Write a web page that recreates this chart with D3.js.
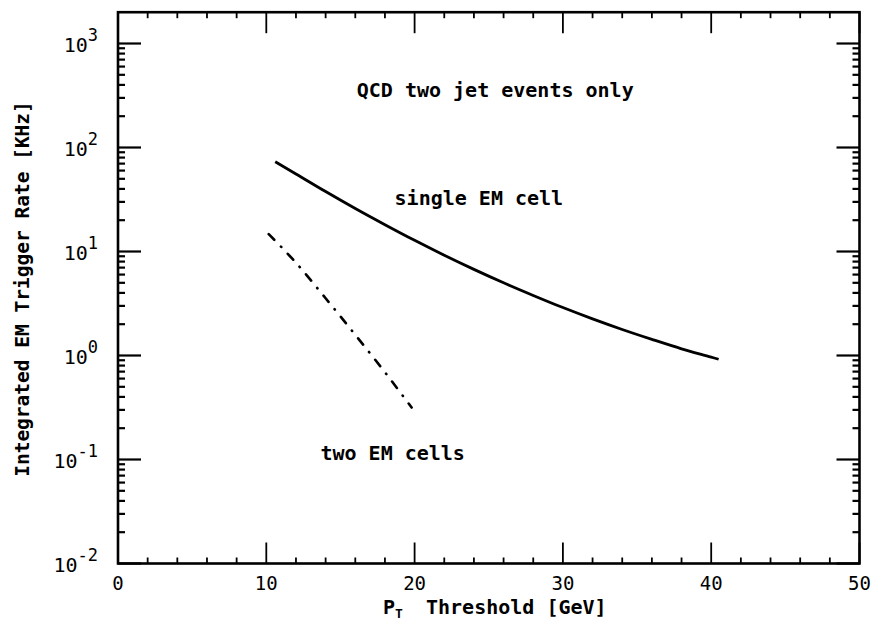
<!DOCTYPE html>
<html>
<head>
<meta charset="utf-8">
<script src="https://cdn.jsdelivr.net/npm/d3@7/dist/d3.min.js"></script>
<style>
  html, body { margin: 0; padding: 0; background: #fff; }
  svg text { font-family: "DejaVu Sans Mono", monospace; fill: #000; }
</style>
</head>
<body>
<svg id="chart" width="876" height="622"></svg>
<script>
// ---- data ----
const singlePt   = [10.6, 12, 14, 16, 18, 20, 22, 24, 26, 28, 30, 32, 34, 36, 38, 40, 40.5];
const singleRate = [73, 55.7, 37.7, 25.9, 18.1, 12.8, 9.2, 6.73, 5.0, 3.78, 2.89, 2.25, 1.78, 1.43, 1.16, 0.964, 0.92];
const twoPt   = [10.16, 12, 14, 16, 18, 19.8];
const twoRate = [14.7, 7.8, 3.55, 1.58, 0.69, 0.316];
const xTicks = [0, 10, 20, 30, 40, 50];
const yTickExp = [-2, -1, 0, 1, 2, 3];
const xTitle = "Threshold [GeV]";
const yTitle = "Integrated EM Trigger Rate [KHz]";
const notes = [
  { text: "QCD two jet events only", x: 16.1, y: 305 },
  { text: "single EM cell", x: 18.65, y: 27.9 },
  { text: "two EM cells", x: 13.65, y: 0.0984 }
];

const svg = d3.select("#chart");
const x = d3.scaleLinear().domain([0, 50]).range([118, 859.5]);
const y = d3.scaleLog().domain([0.01, 2000]).range([563.5, 12.2]);
const X0 = x(0), X1 = x(50), Y0 = y(0.01), Y1 = y(2000);

const axisW = 2.6;
const g = svg.append("g");

function tickLine(x1, y1, x2, y2, w) {
  g.append("line").attr("x1", x1).attr("y1", y1).attr("x2", x2).attr("y2", y2)
    .attr("stroke", "#000").attr("stroke-width", w);
}
const minorX = d3.range(0, 50.001, 2).filter(v => v % 10 !== 0);
xTicks.forEach(v => {
  tickLine(x(v), Y0, x(v), Y0 - 21, 1.8);
  tickLine(x(v), Y1, x(v), Y1 + 21, 1.8);
});
minorX.forEach(v => {
  tickLine(x(v), Y0, x(v), Y0 - 6, 1.8);
  tickLine(x(v), Y1, x(v), Y1 + 6, 1.8);
});
yTickExp.forEach(e => {
  const v = Math.pow(10, e);
  tickLine(X0, y(v), X0 + 23, y(v), 2.2);
  tickLine(X1, y(v), X1 - 23, y(v), 2.2);
  if (e < 3) {
    for (let k = 2; k <= 9; k++) {
      tickLine(X0, y(k * v), X0 + 7, y(k * v), 2.2);
      tickLine(X1, y(k * v), X1 - 7, y(k * v), 2.2);
    }
  }
});

// frame
g.append("rect").attr("x", X0).attr("y", Y1).attr("width", X1 - X0).attr("height", Y0 - Y1)
  .attr("fill", "none").attr("stroke", "#000").attr("stroke-width", axisW);

// x tick labels
g.selectAll(".xl").data(xTicks).enter().append("text")
  .attr("x", d => x(d)).attr("y", 590)
  .attr("text-anchor", "middle").attr("font-size", 19)
  .text(d => d);

// y tick labels
yTickExp.forEach(e => {
  const t = g.append("text").attr("x", 98).attr("y", y(Math.pow(10, e)) + 8)
    .attr("text-anchor", "end").attr("font-size", 20);
  t.append("tspan").text("10");
  t.append("tspan").attr("dy", -11).attr("font-size", 17).text(String(e));
});

// axis titles
const xt = g.append("text").attr("x", 383).attr("y", 614).attr("font-size", 20).attr("font-weight", "bold");
xt.append("tspan").text("P");
xt.append("tspan").attr("dy", 4).attr("font-size", 13).text("T");
xt.append("tspan").attr("dy", -4).attr("x", 426).text(xTitle);

g.append("text").attr("transform", "translate(29,289) rotate(-90)")
  .attr("text-anchor", "middle").attr("font-size", 19.5).attr("font-weight", "bold")
  .text(yTitle);

// curves
const line = d3.line().x(d => x(d[0])).y(d => y(d[1])).curve(d3.curveMonotoneX);
g.append("path").datum(d3.zip(singlePt, singleRate)).attr("d", line)
  .attr("fill", "none").attr("stroke", "#000").attr("stroke-width", 2.8);
g.append("path").datum(d3.zip(twoPt, twoRate)).attr("d", line)
  .attr("fill", "none").attr("stroke", "#000").attr("stroke-width", 2.6)
  .attr("stroke-linecap", "round")
  .attr("stroke-dasharray", "8,9.5,0.5,9.5");

// annotations
g.selectAll(".note").data(notes).enter().append("text")
  .attr("x", d => x(d.x)).attr("y", d => y(d.y))
  .attr("font-size", 20).attr("font-weight", "bold")
  .text(d => d.text);
</script>
</body>
</html>
